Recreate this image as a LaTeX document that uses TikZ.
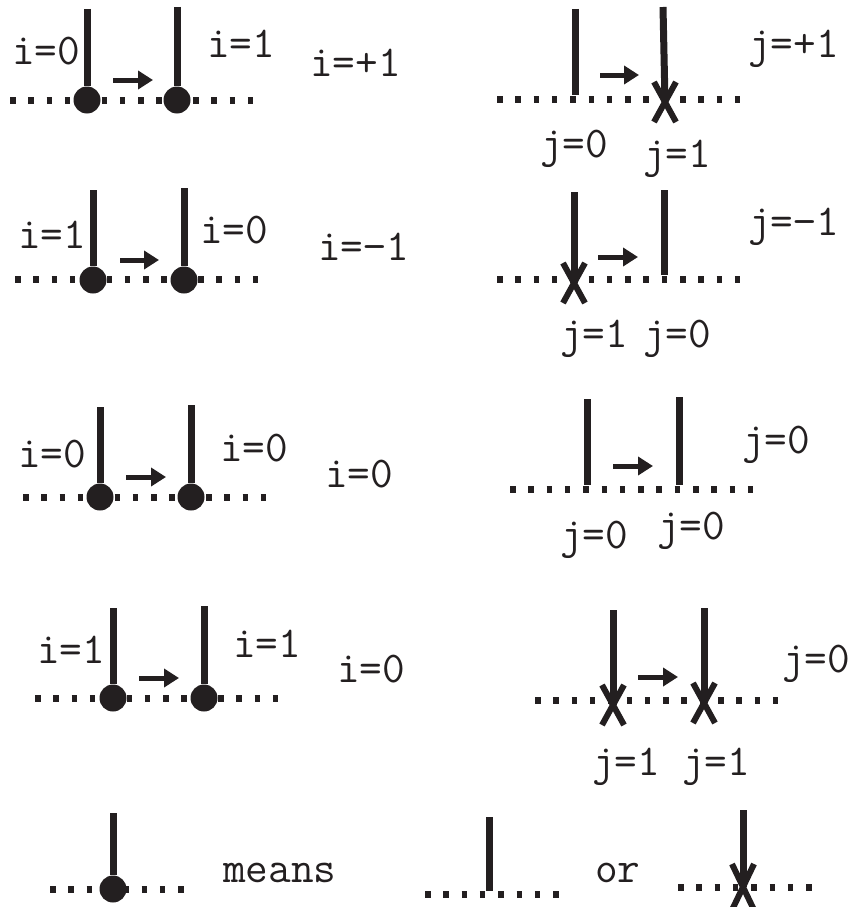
\documentclass[tikz,border=0pt]{standalone}
\usepackage{fontspec}
\usetikzlibrary{arrows.meta,shapes.misc}
\definecolor{ink}{RGB}{35,31,32}

\begin{document}
\begin{tikzpicture}[x=1pt, y=-1pt, >={Triangle[length=15pt,width=18pt]}, color=ink]
    \tikzstyle{lbl}=[inner sep=0, anchor=base west, font=\ttfamily\fontsize{44}{46}\selectfont]
    \tikzstyle{stem}=[line width=7pt]
    \tikzstyle{dots}=[line width=7pt, dash pattern=on 5.5pt off 12.8pt]
    \tikzstyle{ball}=[circle, fill=ink, minimum size=27pt, inner sep=0]
    \tikzstyle{flip}=[cross out, draw, line width=6pt, minimum width=22pt, minimum height=40pt, inner sep=0, outer sep=0]
    \tikzstyle{move}=[->, line width=5pt]

    \useasboundingbox (0,0) rectangle (851,907);

    % i=+1
    \draw[dots] (10,100) -- (255,100);
    \node[ball] (b1) at (87,100) {};
    \node[ball] (b2) at (177,100) {};
    \coordinate (t1) at (87,9);
    \coordinate (t2) at (177,7);
    \draw[stem] (t1) -- (b1);
    \draw[stem] (t2) -- (b2);
    \coordinate (m1a) at (113,80);
    \coordinate (m1b) at (153,80);
    \draw[move] (m1a) -- (m1b);
    \node[lbl] (i1a) at (12,65) {i=0};
    \node[lbl] (i1b) at (207,58) {i=1};
    \node[lbl] (i1c) at (310,77) {i=+1};

    % j=+1
    \draw[dots] (497,99) -- (742,99);
    \node[flip] (x1) at (665,102) {};
    \coordinate (t3) at (575,9);
    \coordinate (e3) at (575,95);
    \coordinate (t4) at (663,7);
    \draw[stem] (t3) -- (e3);
    \draw[stem] (t4) -- (x1.center);
    \coordinate (m2a) at (600,75);
    \coordinate (m2b) at (639,75);
    \draw[move] (m2a) -- (m2b);
    \node[lbl] (j1a) at (540,157) {j=0};
    \node[lbl] (j1b) at (643,167) {j=1};
    \node[lbl] (j1c) at (748,57) {j=+1};

    % i=-1
    \draw[dots] (15,279) -- (262,279);
    \node[ball] (b3) at (93,280) {};
    \node[ball] (b4) at (184,280) {};
    \coordinate (t5) at (93,190);
    \coordinate (t6) at (184,188);
    \draw[stem] (t5) -- (b3);
    \draw[stem] (t6) -- (b4);
    \coordinate (m3a) at (120,260);
    \coordinate (m3b) at (159,260);
    \draw[move] (m3a) -- (m3b);
    \node[lbl] (i2a) at (18,248) {i=1};
    \node[lbl] (i2b) at (200,243) {i=0};
    \node[lbl] (i2c) at (318,260) {i=−1};

    % j=-1
    \draw[dots] (497,279) -- (742,279);
    \node[flip] (x2) at (574,283) {};
    \coordinate (t7) at (574,192);
    \coordinate (t8) at (664,190);
    \coordinate (e8) at (664,275);
    \draw[stem] (t7) -- (x2.center);
    \draw[stem] (t8) -- (e8);
    \coordinate (m4a) at (598,257);
    \coordinate (m4b) at (638,257);
    \draw[move] (m4a) -- (m4b);
    \node[lbl] (j2a) at (560,347) {j=1};
    \node[lbl] (j2b) at (643,347) {j=0};
    \node[lbl] (j2c) at (748,235) {j=−1};

    % i=0
    \draw[dots] (23,497) -- (268,497);
    \node[ball] (b5) at (100,497) {};
    \node[ball] (b6) at (191,497) {};
    \coordinate (t9) at (100,407);
    \coordinate (t10) at (191,405);
    \draw[stem] (t9) -- (b5);
    \draw[stem] (t10) -- (b6);
    \coordinate (m5a) at (126,477);
    \coordinate (m5b) at (166,477);
    \draw[move] (m5a) -- (m5b);
    \node[lbl] (i3a) at (18,467) {i=0};
    \node[lbl] (i3b) at (220,461) {i=0};
    \node[lbl] (i3c) at (325,487) {i=0};

    % j=0
    \draw[dots] (510,489) -- (756,489);
    \coordinate (t11) at (587,399);
    \coordinate (e11) at (587,485);
    \coordinate (t12) at (679,397);
    \coordinate (e12) at (679,485);
    \draw[stem] (t11) -- (e11);
    \draw[stem] (t12) -- (e12);
    \coordinate (m6a) at (613,466);
    \coordinate (m6b) at (653,466);
    \draw[move] (m6a) -- (m6b);
    \node[lbl] (j3a) at (560,548) {j=0};
    \node[lbl] (j3b) at (657,539) {j=0};
    \node[lbl] (j3c) at (742,453) {j=0};

    % i=0, both up
    \draw[dots] (35,698) -- (280,698);
    \node[ball] (b7) at (113,698) {};
    \node[ball] (b8) at (204,698) {};
    \coordinate (t13) at (113,608);
    \coordinate (t14) at (204,606);
    \draw[stem] (t13) -- (b7);
    \draw[stem] (t14) -- (b8);
    \coordinate (m7a) at (139,678);
    \coordinate (m7b) at (179,678);
    \draw[move] (m7a) -- (m7b);
    \node[lbl] (i4a) at (37,663) {i=1};
    \node[lbl] (i4b) at (233,657) {i=1};
    \node[lbl] (i4c) at (337,682) {i=0};

    % j=0, both flipped
    \draw[dots] (535,700) -- (782,700);
    \node[flip] (x3) at (613,705) {};
    \node[flip] (x4) at (704,703) {};
    \coordinate (t15) at (613,610);
    \coordinate (t16) at (704,608);
    \draw[stem] (t15) -- (x3.center);
    \draw[stem] (t16) -- (x4.center);
    \coordinate (m8a) at (638,677);
    \coordinate (m8b) at (678,677);
    \draw[move] (m8a) -- (m8b);
    \node[lbl] (j4a) at (592,775) {j=1};
    \node[lbl] (j4b) at (682,775) {j=1};
    \node[lbl] (j4c) at (782,672) {j=0};

    % legend
    \draw[dots] (50,889) -- (184,889);
    \node[ball] (b9) at (113,889) {};
    \coordinate (t17) at (113,813);
    \draw[stem] (t17) -- (b9);
    \node[lbl] (means) at (223,882) {means};

    \draw[dots] (425,894) -- (559,894);
    \coordinate (t18) at (489,817);
    \coordinate (e18) at (489,891);
    \draw[stem] (t18) -- (e18);
    \node[lbl] (or) at (595,882) {or};

    \draw[dots] (678,887) -- (814,887);
    \node[flip, minimum height=46pt] (x5) at (743,887) {};
    \coordinate (t19) at (743,810);
    \draw[stem] (t19) -- (x5.center);
\end{tikzpicture}
\end{document}
